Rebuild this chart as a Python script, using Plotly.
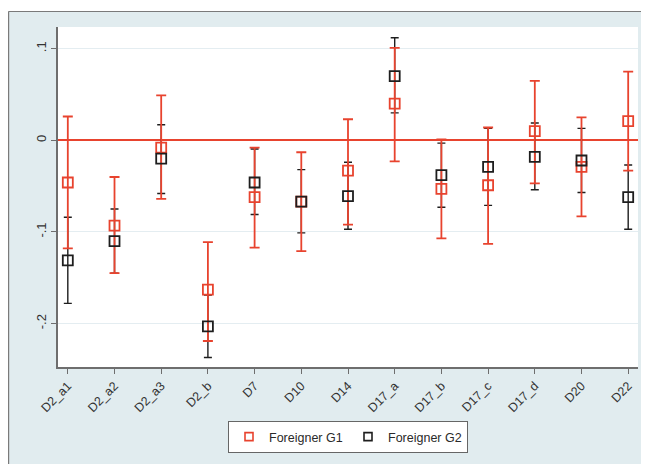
import plotly.graph_objects as go

cats = ["D2_a1", "D2_a2", "D2_a3", "D2_b", "D7", "D10", "D14",
        "D17_a", "D17_b", "D17_c", "D17_d", "D20", "D22"]
g1_est = [-0.046, -0.093, -0.008, -0.163, -0.062, -0.067, -0.033, 0.040, -0.053, -0.049, 0.010, -0.029, 0.021]
g1_hi = [0.026, -0.040, 0.049, -0.111, -0.008, -0.013, 0.023, 0.101, 0.001, 0.014, 0.065, 0.025, 0.075]
g1_lo = [-0.118, -0.145, -0.064, -0.219, -0.117, -0.121, -0.092, -0.023, -0.107, -0.113, -0.047, -0.083, -0.033]
g2_est = [-0.131, -0.110, -0.020, -0.203, -0.046, -0.067, -0.061, 0.070, -0.038, -0.029, -0.018, -0.022, -0.062]
g2_hi = [-0.084, -0.075, 0.017, -0.169, -0.0095, -0.032, -0.024, 0.112, -0.003, 0.013, 0.019, 0.013, -0.027]
g2_lo = [-0.178, -0.145, -0.058, -0.237, -0.081, -0.101, -0.097, 0.030, -0.073, -0.071, -0.054, -0.057, -0.097]
series_names = ["Foreigner G1", "Foreigner G2"]
ytick_vals = [-0.2, -0.1, 0, 0.1]
ytick_text = ["-.2", "-.1", "0", ".1"]

RED = "#e8432e"
BLK = "#1e1e1e"

def err(est, hi, lo):
    plus = [h - e for h, e in zip(hi, est)]
    minus = [e - l for e, l in zip(est, lo)]
    return plus, minus

p1, m1 = err(g1_est, g1_hi, g1_lo)
p2, m2 = err(g2_est, g2_hi, g2_lo)

fig = go.Figure()
fig.add_trace(go.Scatter(x=cats, y=g2_est, mode="markers", showlegend=False,
                         marker=dict(color="rgba(0,0,0,0)", size=1),
                         error_y=dict(type="data", array=p2, arrayminus=m2, symmetric=False,
                                      color=BLK, thickness=1.4, width=4)))
fig.add_trace(go.Scatter(x=cats, y=g1_est, mode="markers", showlegend=False,
                         marker=dict(color="rgba(0,0,0,0)", size=1),
                         error_y=dict(type="data", array=p1, arrayminus=m1, symmetric=False,
                                      color=RED, thickness=1.8, width=5)))
fig.add_trace(go.Scatter(x=cats, y=g1_est, mode="markers", showlegend=False,
                         marker=dict(symbol="square-open", size=10, color=RED,
                                     line=dict(width=1.8, color=RED))))
fig.add_trace(go.Scatter(x=cats, y=g2_est, mode="markers", showlegend=False,
                         marker=dict(symbol="square-open", size=10, color=BLK,
                                     line=dict(width=1.8, color=BLK))))
# legend entries with smaller symbols
for name, col in zip(series_names, [RED, BLK]):
    fig.add_trace(go.Scatter(x=[None], y=[None], mode="markers", name=name,
                             marker=dict(symbol="square-open", size=8, color=col,
                                         line=dict(width=1.6, color=col))))

W, H = 641, 456
L, R, T, B = 50, 630, 19, 359   # plot area in figure px

def px_x(p):
    return (p - L) / float(R - L)

def px_y(p):
    return (B - p) / float(B - T)

shapes = [
    dict(type="rect", xref="paper", yref="paper", x0=px_x(-5), x1=px_x(W + 5),
         y0=px_y(3), y1=px_y(-5), fillcolor="white", line=dict(width=0), layer="below"),
    dict(type="line", xref="paper", yref="paper", x0=px_x(0.5), x1=px_x(W + 5),
         y0=px_y(3.5), y1=px_y(3.5), line=dict(color="#7a7a7a", width=1.2)),
    dict(type="line", xref="paper", yref="paper", x0=px_x(0.6), x1=px_x(0.6),
         y0=px_y(H + 5), y1=px_y(3.5), line=dict(color="#7a7a7a", width=1.2)),
]

fig.update_layout(
    width=W, height=H,
    margin=dict(l=L, r=W - R, t=T, b=H - B),
    paper_bgcolor="#e1ecef",
    plot_bgcolor="white",
    font=dict(family="Liberation Sans, Arial, sans-serif", color="#333333"),
    shapes=shapes,
    legend=dict(orientation="h", x=0.5, xanchor="center", y=px_y(413), yanchor="top",
                bgcolor="white", bordercolor="#666666", borderwidth=1,
                font=dict(size=12.5, color="#2a2a2a"), itemsizing="trace",
                entrywidth=74),
    showlegend=True,
)
fig.update_xaxes(type="category", range=[-0.21, 12.21], showgrid=False, zeroline=False,
                 showline=True, linecolor="#6e6e6e", linewidth=1.5,
                 ticks="outside", ticklen=5, tickcolor="#6e6e6e", tickangle=-45,
                 tickfont=dict(size=12.5, color="#333333"), automargin=False)
fig.update_yaxes(range=[-0.2474, 0.1237], tickvals=ytick_vals, ticktext=ytick_text,
                 showgrid=True, gridcolor="#e4edf1", gridwidth=1,
                 zeroline=True, zerolinecolor=RED, zerolinewidth=2,
                 showline=True, linecolor="#6e6e6e", linewidth=1.5,
                 ticks="outside", ticklen=5, tickcolor="#6e6e6e", tickangle=-90,
                 tickfont=dict(size=13, color="#333333"), automargin=False)

fig.write_html("out.html")
